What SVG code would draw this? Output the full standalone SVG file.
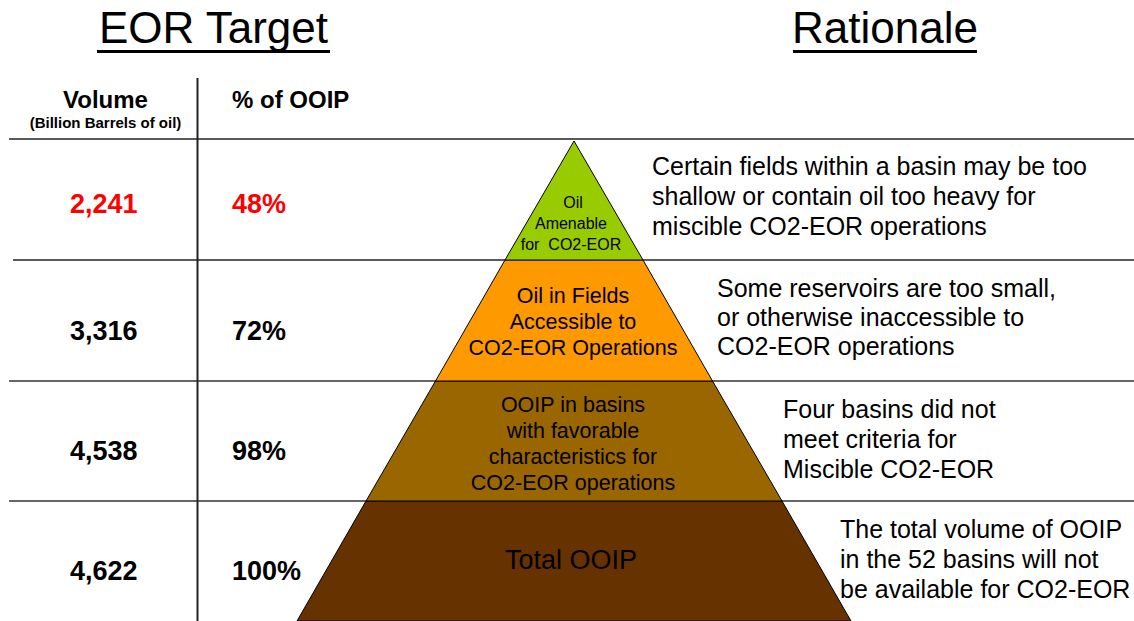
<svg xmlns="http://www.w3.org/2000/svg" width="1134" height="621" viewBox="0 0 1134 621">
  <style>
    text { font-family: "Liberation Sans", Arial, sans-serif; fill: #000; }
    .title { font-size: 44px; text-anchor: middle; }
    .hdr { font-size: 24px; font-weight: bold; }
    .sub { font-size: 15px; font-weight: bold; text-anchor: middle; }
    .num { font-size: 27px; font-weight: bold; }
    .red { fill: #FF0000; }
    .layer { stroke: #000; stroke-width: 1; }
    .lbl { text-anchor: middle; }
    .why { font-size: 25px; }
    .gl { stroke: #5a5a5a; stroke-width: 2; fill: none; }
    .gd { stroke: #333; stroke-width: 1.5; fill: none; }
  </style>

  <rect x="0" y="0" width="1134" height="621" fill="#FFFFFF"/>

  <g id="titles">
    <text class="title" x="213.5" y="43">EOR Target</text>
    <rect x="97" y="50" width="233" height="3" fill="#000"/>
    <text class="title" x="885" y="43">Rationale</text>
    <rect x="793" y="50" width="184" height="3" fill="#000"/>
  </g>

  <g id="grid">
    <line class="gl" x1="9" y1="139" x2="1134" y2="139"/>
    <line class="gl" x1="13" y1="260" x2="1134" y2="260"/>
    <line class="gd" x1="9" y1="381" x2="1134" y2="381"/>
    <line class="gd" x1="9" y1="501" x2="1134" y2="501"/>
    <line x1="197.5" y1="78" x2="197.5" y2="621" stroke="#222" stroke-width="2"/>
  </g>

  <g id="header">
    <text class="hdr" x="105.5" y="108" text-anchor="middle">Volume</text>
    <text class="sub" x="105.5" y="128">(Billion Barrels of oil)</text>
    <text class="hdr" x="232" y="108">% of OOIP</text>
  </g>

  <g id="row1">
    <text class="num red" x="70" y="213">2,241</text>
    <text class="num red" x="232" y="213">48%</text>
  </g>
  <g id="row2">
    <text class="num" x="70" y="340">3,316</text>
    <text class="num" x="232" y="340">72%</text>
  </g>
  <g id="row3">
    <text class="num" x="70" y="460">4,538</text>
    <text class="num" x="232" y="460">98%</text>
  </g>
  <g id="row4">
    <text class="num" x="70" y="580">4,622</text>
    <text class="num" x="232" y="580">100%</text>
  </g>

  <g id="layer-total">
    <polygon class="layer" points="366,501 782,501 851,621 297,621" fill="#663300"/>
    <text class="lbl" x="571" y="569" font-size="27">Total OOIP</text>
  </g>
  <g id="layer-basins">
    <polygon class="layer" points="435.5,381 712.5,381 782,501 366,501" fill="#996600"/>
    <g class="lbl" font-size="21.5">
      <text class="lbl" x="573" y="412">OOIP in basins</text>
      <text class="lbl" x="573" y="438">with favorable</text>
      <text class="lbl" x="573" y="464">characteristics for</text>
      <text class="lbl" x="573" y="490">CO2-EOR operations</text>
    </g>
  </g>
  <g id="layer-fields">
    <polygon class="layer" points="505,260 643,260 712.5,381 435.5,381" fill="#FF9900"/>
    <g font-size="21.5">
      <text class="lbl" x="573" y="303">Oil in Fields</text>
      <text class="lbl" x="573" y="329">Accessible to</text>
      <text class="lbl" x="573" y="355">CO2-EOR Operations</text>
    </g>
  </g>
  <g id="layer-amenable">
    <polygon class="layer" points="574,141 643,260 505,260" fill="#99CC00"/>
    <g font-size="16">
      <text class="lbl" x="573" y="208">Oil</text>
      <text class="lbl" x="571" y="229">Amenable</text>
      <text class="lbl" x="571" y="250" xml:space="preserve">for  CO2-EOR</text>
    </g>
  </g>

  <g id="rationale1" class="why">
    <text class="why" x="652" y="175">Certain fields within a basin may be too</text>
    <text class="why" x="652" y="205">shallow or contain oil too heavy for</text>
    <text class="why" x="652" y="235">miscible CO2-EOR operations</text>
  </g>
  <g id="rationale2">
    <text class="why" x="717" y="297">Some reservoirs are too small,</text>
    <text class="why" x="717" y="326">or otherwise inaccessible to</text>
    <text class="why" x="717" y="355">CO2-EOR operations</text>
  </g>
  <g id="rationale3">
    <text class="why" x="783" y="418">Four basins did not</text>
    <text class="why" x="783" y="448">meet criteria for</text>
    <text class="why" x="783" y="478">Miscible CO2-EOR</text>
  </g>
  <g id="rationale4">
    <text class="why" x="840" y="538">The total volume of OOIP</text>
    <text class="why" x="840" y="568">in the 52 basins will not</text>
    <text class="why" x="840" y="598">be available for CO2-EOR</text>
  </g>
</svg>
